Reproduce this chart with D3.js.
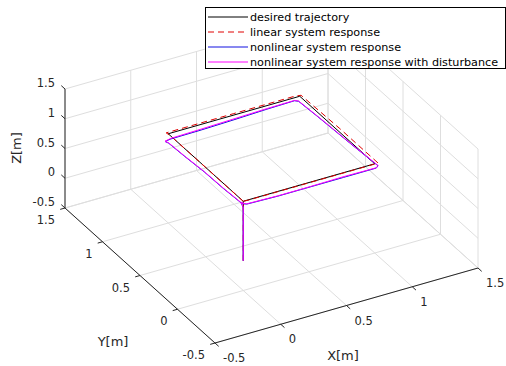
<!DOCTYPE html>
<html><head><meta charset="utf-8">
<script src="https://cdn.jsdelivr.net/npm/d3@7"></script>
<style>body{margin:0;background:#fff}svg{display:block}text{font-family:"DejaVu Sans",sans-serif;fill:#262626}</style>
</head><body><svg id="c" width="506" height="366"></svg>
<script>
// ---- data ----
const axisTicks = [-0.5, 0, 0.5, 1, 1.5];
const tickLabels = ["-0.5", "0", "0.5", "1", "1.5"];
const seriesNames = ["desired trajectory", "linear system response", "nonlinear system response", "nonlinear system response with disturbance"];
const desired = [[0,0,0],[0,0,1],[1,0,1],[1,1,1],[0,1,1],[0,0,1]];
const linearResp = [[0,0,0],[0,0,0.5],[0,0,1],[0.03,-0.01,1.01],[0.5,-0.01,1.01],[1.02,-0.01,1.01],[1.02,0.03,1.01],[1.02,0.5,1.01],[1.01,1.0,1.01],[0.97,1.01,1.01],[0.5,1.01,1.01],[-0.01,1.01,1.01],[0.0,0.97,1.0],[0,0.5,1.0],[0,0,1.0]];
const nonlinResp = [[0,0,0],[0,0,0.5],[0,0,0.9],[-0.01,0.01,0.96],[0.02,-0.01,0.95],
 [0.25,-0.02,0.95],[0.5,-0.02,0.95],[0.75,-0.02,0.95],[1.0,-0.02,0.95],[1.025,0.0,0.95],
 [1.01,0.25,0.955],[1.0,0.5,0.955],[0.99,0.75,0.955],[0.98,0.98,0.95],[0.96,1.0,0.95],
 [0.75,1.0,0.94],[0.5,1.0,0.92],[0.25,1.0,0.905],[0.02,1.0,0.9],[-0.03,0.99,0.9],[-0.02,0.96,0.9],
 [-0.02,0.75,0.92],[-0.01,0.5,0.93],[-0.01,0.25,0.94],[0,0.03,0.94],[0.01,0,0.95]];
const distResp = [[0,0,0],[0,0,0.5],[0,0,0.9],[-0.01,0.01,0.965],[0.02,-0.01,0.955],
 [0.25,-0.02,0.955],[0.5,-0.02,0.955],[0.75,-0.015,0.955],[1.0,-0.02,0.955],[1.025,0.0,0.955],
 [1.01,0.25,0.96],[1.0,0.5,0.96],[0.99,0.75,0.96],[0.98,0.98,0.955],[0.96,1.0,0.955],
 [0.75,1.0,0.95],[0.5,1.0,0.935],[0.25,1.0,0.92],[0.02,1.0,0.91],[-0.03,0.99,0.905],[-0.02,0.96,0.905],
 [-0.02,0.75,0.925],[-0.01,0.5,0.935],[-0.01,0.25,0.945],[0,0.03,0.945],[0.01,0,0.955]];
const colors = ["#000000", "#e00000", "#1010e0", "#ff00ff"];

// ---- projection ----
const svg = d3.select("#c");
const sx = d3.scaleLinear().domain([-0.5,1.5]).range([0,1]);
const sy = d3.scaleLinear().domain([-0.5,1.5]).range([0,1]);
const sz = d3.scaleLinear().domain([-0.5,1.5]).range([0,1]);
const O = [215,343], EX = [263,-75], EY = [-150,-135], EZ = [0,-119];
function P(x,y,z){const a=sx(x),b=sy(y),c=sz(z);return [O[0]+a*EX[0]+b*EY[0]+c*EZ[0], O[1]+a*EX[1]+b*EY[1]+c*EZ[1]];}
const lo=-0.5, hi=1.5;
const gridCol="#dedede", axCol="#262626";
const g = svg.append("g");
function seg(p,q,col,w){g.append("line").attr("x1",p[0]).attr("y1",p[1]).attr("x2",q[0]).attr("y2",q[1]).attr("stroke",col).attr("stroke-width",w||1);}
axisTicks.forEach(t=>{
  seg(P(t,lo,lo),P(t,hi,lo),gridCol);
  seg(P(lo,t,lo),P(hi,t,lo),gridCol);
  seg(P(t,hi,lo),P(t,hi,hi),gridCol);
  seg(P(lo,hi,t),P(hi,hi,t),gridCol);
  seg(P(hi,t,lo),P(hi,t,hi),gridCol);
  seg(P(hi,lo,t),P(hi,hi,t),gridCol);
});
seg(P(lo,lo,lo),P(hi,lo,lo),axCol);
seg(P(lo,lo,lo),P(lo,hi,lo),axCol);
seg(P(lo,hi,lo),P(lo,hi,hi),axCol);
function unit(v){const l=Math.hypot(v[0],v[1]);return [v[0]/l,v[1]/l];}
const tl=5;
axisTicks.forEach((t,i)=>{
  let p=P(t,lo,lo), d=unit([-EY[0],-EY[1]]);
  seg(p,[p[0]+d[0]*tl,p[1]+d[1]*tl],axCol);
  g.append("text").attr("x",p[0]+8).attr("y",p[1]+15).attr("dy","0.35em").attr("font-size",11.5).text(tickLabels[i]);
  p=P(lo,t,lo); d=unit([-EX[0],-EX[1]]);
  seg(p,[p[0]+d[0]*tl,p[1]+d[1]*tl],axCol);
  g.append("text").attr("x",p[0]-10).attr("y",p[1]+12).attr("dy","0.35em").attr("text-anchor","end").attr("font-size",11.5).text(tickLabels[i]);
  p=P(lo,hi,t); d=unit(EY);
  seg(p,[p[0]+d[0]*tl,p[1]+d[1]*tl],axCol);
  g.append("text").attr("x",p[0]-10).attr("y",p[1]-6).attr("dy","0.35em").attr("text-anchor","end").attr("font-size",11.5).text(tickLabels[i]);
});
g.append("text").attr("x",343).attr("y",355).attr("dy","0.35em").attr("text-anchor","middle").attr("font-size",13).text("X[m]");
g.append("text").attr("x",113).attr("y",341).attr("dy","0.35em").attr("text-anchor","middle").attr("font-size",13).text("Y[m]");
g.append("text").attr("transform","translate(16,148) rotate(-90)").attr("dy","0.35em").attr("text-anchor","middle").attr("font-size",13).text("Z[m]");

const line = d3.line().x(d=>P(...d)[0]).y(d=>P(...d)[1]);
const series=[desired,linearResp,nonlinResp,distResp];
series.forEach((s,i)=>{
  svg.append("path").attr("d",line(s)).attr("fill","none").attr("stroke",colors[i]).attr("stroke-width",1)
    .attr("stroke-linejoin","round").attr("stroke-dasharray",i===1?"6,4":null);
});

const lg = svg.append("g");
lg.append("rect").attr("x",205.5).attr("y",7.5).attr("width",300).attr("height",61).attr("fill","#fff").attr("stroke","#000").attr("stroke-width",1);
seriesNames.forEach((n,i)=>{
  const y=17+i*15;
  lg.append("line").attr("x1",208).attr("x2",248).attr("y1",y).attr("y2",y).attr("stroke",colors[i]).attr("stroke-width",1).attr("stroke-dasharray",i===1?"6,4":null);
  lg.append("text").attr("x",250).attr("y",y).attr("dy","0.35em").attr("font-size",11.2).style("fill","#000").text(n);
});
</script></body></html>
